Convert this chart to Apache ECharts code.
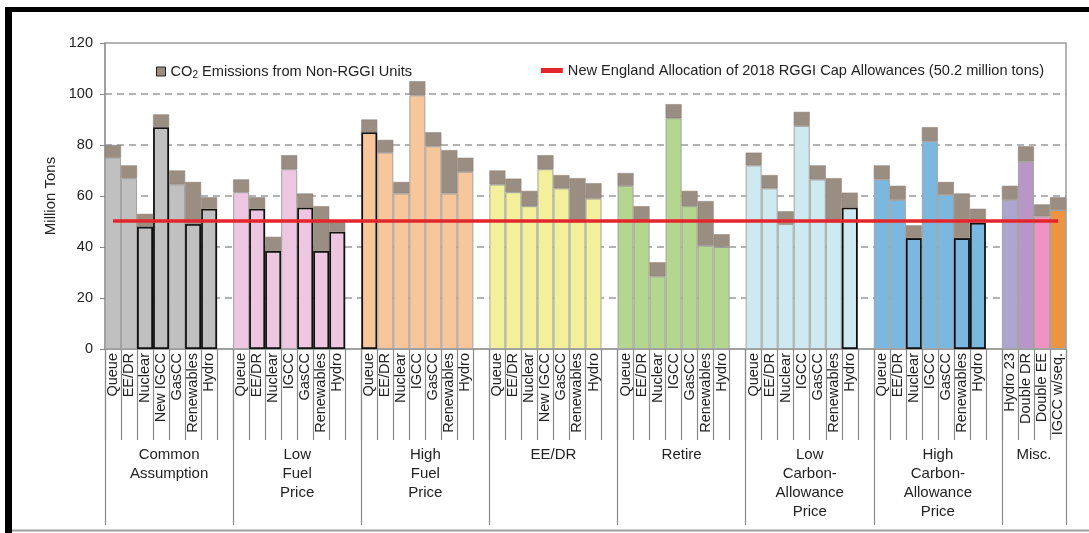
<!DOCTYPE html>
<html><head><meta charset="utf-8">
<script src="https://cdn.jsdelivr.net/npm/echarts@6/dist/echarts.min.js"></script>
<style>html,body{margin:0;padding:0;background:#fff}#c{width:1089px;height:533px}</style>
</head><body><div id="c"></div>
<script>
// ---------- data ----------
const groupNames = ['Common\nAssumption', 'Low\nFuel\nPrice', 'High\nFuel\nPrice', 'EE/DR', 'Retire',
  'Low\nCarbon-\nAllowance\nPrice', 'High\nCarbon-\nAllowance\nPrice', 'Misc.'];

const casesCommon     = ['Queue', 'EE/DR', 'Nuclear', 'New IGCC', 'GasCC', 'Renewables', 'Hydro'];
const casesLowFuel    = ['Queue', 'EE/DR', 'Nuclear', 'IGCC', 'GasCC', 'Renewables', 'Hydro'];
const casesHighFuel   = ['Queue', 'EE/DR', 'Nuclear', 'IGCC', 'GasCC', 'Renewables', 'Hydro'];
const casesEEDR       = ['Queue', 'EE/DR', 'Nuclear', 'New IGCC', 'GasCC', 'Renewables', 'Hydro'];
const casesRetire     = ['Queue', 'EE/DR', 'Nuclear', 'IGCC', 'GasCC', 'Renewables', 'Hydro'];
const casesLowCarbon  = ['Queue', 'EE/DR', 'Nuclear', 'IGCC', 'GasCC', 'Renewables', 'Hydro'];
const casesHighCarbon = ['Queue', 'EE/DR', 'Nuclear', 'IGCC', 'GasCC', 'Renewables', 'Hydro'];
const casesMisc       = ['Hydro 23', 'Double DR', 'Double EE', 'IGCC w/seq.'];

// RGGI-unit emissions (coloured part), million tons
const rggiCommon     = [75, 67, 48, 87, 64.5, 49, 55];
const rggiLowFuel    = [61.5, 55, 38.5, 70.5, 55.5, 38.5, 46];
const rggiHighFuel   = [85, 77, 61, 99.5, 79.5, 61, 69.5];
const rggiEEDR       = [64.5, 61.5, 56, 70.5, 63, 50, 59];
const rggiRetire     = [64, 50.5, 28.5, 90.5, 56, 40.5, 40];
const rggiLowCarbon  = [72, 63, 49, 87.5, 66.5, 50, 55.5];
const rggiHighCarbon = [66.5, 58.5, 43.5, 81.5, 60.5, 43.5, 49.5];
const rggiMisc       = [58.5, 73.5, 52, 54.5];

// CO2 emissions from non-RGGI units (grey part), million tons
const nonRggiCommon     = [5, 5, 5, 5, 5.5, 16.5, 4.5];
const nonRggiLowFuel    = [5, 4.5, 5.5, 5.5, 5.5, 17.5, 4.5];
const nonRggiHighFuel   = [5, 5, 4.5, 5.5, 5.5, 17, 5.5];
const nonRggiEEDR       = [5.5, 5.3, 6, 5.5, 5.2, 17, 6];
const nonRggiRetire     = [5, 5.5, 5.5, 5.5, 6, 17.5, 5];
const nonRggiLowCarbon  = [5, 5.2, 5, 5.5, 5.5, 17, 5.8];
const nonRggiHighCarbon = [5.5, 5.5, 5, 5.5, 5, 17.5, 5.5];
const nonRggiMisc       = [5.5, 6, 4.7, 5];

const capAllowance = 50.2;
const yTicks = [0, 20, 40, 60, 80, 100, 120];

// ---------- styles ----------
const groupColors = ['#c0c0c0', '#ecc7df', '#f7c69b', '#f2f09b', '#b4d68f', '#cfe9f1', '#7bb8e0',
  ['#aca6d1', '#b896c8', '#f093c0', '#ee9440']];
const outlinedCases = [[2, 3, 5, 6], [1, 2, 4, 5, 6], [0], [], [], [6], [2, 5, 6], []];
const greyTop = '#9a8e82';
const FONT = 'Liberation Sans, Arial, sans-serif';

// ---------- build ----------
const groupCases = [casesCommon, casesLowFuel, casesHighFuel, casesEEDR, casesRetire, casesLowCarbon, casesHighCarbon, casesMisc];
const groupRggi = [rggiCommon, rggiLowFuel, rggiHighFuel, rggiEEDR, rggiRetire, rggiLowCarbon, rggiHighCarbon, rggiMisc];
const groupNon = [nonRggiCommon, nonRggiLowFuel, nonRggiHighFuel, nonRggiEEDR, nonRggiRetire, nonRggiLowCarbon, nonRggiHighCarbon, nonRggiMisc];

const categories = [], baseData = [], topData = [];
const groupBounds = [], groupCenters = [];
groupCases.forEach((cases, g) => {
  const start = categories.length;
  cases.forEach((c, i) => {
    categories.push(categories.length + '|' + c);
    const col = Array.isArray(groupColors[g]) ? groupColors[g][i] : groupColors[g];
    const out = outlinedCases[g].includes(i);
    baseData.push({ value: groupRggi[g][i], itemStyle: { color: col, borderColor: out ? '#111' : '#a3a3a3', borderWidth: out ? 1.8 : 1 } });
    topData.push(groupNon[g][i]);
  });
  if (g < groupCases.length - 1) {
    categories.push(categories.length + '|');
    baseData.push('-'); topData.push('-');
  }
  groupBounds.push(start);
  groupCenters.push((start + categories.length) / 2);
});
groupBounds.push(categories.length);

const nonName = 'CO2 Emissions from Non-RGGI Units';
const capName = 'New England Allocation of 2018 RGGI Cap Allowances (50.2 million tons)';

const chart = echarts.init(document.getElementById('c'), null, { renderer: 'canvas' });
chart.setOption({
  animation: false,
  backgroundColor: '#fff',
  textStyle: { fontFamily: FONT },
  grid: { left: 105, right: 23, top: 43, bottom: 184, show: true, borderColor: '#9a9a9a', borderWidth: 1.5, backgroundColor: 'transparent' },
  legend: [
    {
      data: [nonName], left: 151, top: 58, icon: 'rect', itemWidth: 9, itemHeight: 9, itemGap: 4,
      itemStyle: { borderColor: '#222', borderWidth: 1 },
      formatter: () => 'CO{s|2} Emissions from Non-RGGI Units',
      textStyle: { fontSize: 14.6, color: '#222', fontFamily: FONT, lineHeight: 17,
        rich: { s: { fontSize: 10, lineHeight: 10, verticalAlign: 'bottom', padding: [7, 0, 0, 0], fontFamily: FONT, color: '#222' } } }
    },
    {
      data: [capName], right: 40, top: 58, icon: 'rect', itemWidth: 22, itemHeight: 5,
      textStyle: { fontSize: 14.6, color: '#222', fontFamily: FONT }
    }
  ],
  xAxis: [
    {
      type: 'category', data: categories, position: 'bottom',
      axisLine: { show: true, lineStyle: { color: '#9a9a9a', width: 1.5 } },
      axisTick: { show: true, interval: 0, length: 91, lineStyle: { color: '#8a8a8a', width: 1.2 } },
      axisLabel: { interval: 0, rotate: 90, margin: 4, fontSize: 14.5, color: '#222', fontFamily: FONT,
        formatter: v => v.split('|')[1] },
      splitLine: { show: false }
    },
    {
      type: 'value', min: 0, max: categories.length, position: 'bottom',
      axisLine: { show: false },
      splitLine: { show: false },
      axisTick: { show: true, customValues: groupBounds, length: 176, lineStyle: { color: '#8a8a8a', width: 1.2 } },
      axisLabel: { show: true, customValues: groupCenters, margin: 96, fontSize: 15, lineHeight: 19, color: '#222', fontFamily: FONT,
        formatter: v => { const i = groupCenters.indexOf(v); return i >= 0 ? groupNames[i] : ''; } }
    }
  ],
  yAxis: {
    type: 'value', min: yTicks[0], max: yTicks[yTicks.length - 1], interval: yTicks[1] - yTicks[0],
    name: 'Million Tons', nameLocation: 'middle', nameGap: 46, nameRotate: 90,
    nameTextStyle: { fontSize: 15, color: '#222', fontFamily: FONT },
    axisLine: { show: true, lineStyle: { color: '#9a9a9a', width: 1.5 } },
    axisTick: { show: true, length: 5, lineStyle: { color: '#8a8a8a' } },
    axisLabel: { fontSize: 14.5, color: '#222', margin: 12, fontFamily: FONT },
    splitLine: { show: true, showMinLine: false, showMaxLine: false, lineStyle: { color: '#9a9a9a', width: 1.5, type: [7, 5] } }
  },
  series: [
    { name: 'RGGI', type: 'bar', stack: 'e', xAxisIndex: 0, barCategoryGap: '0%', data: baseData },
    { name: nonName, type: 'bar', stack: 'e', xAxisIndex: 0, barCategoryGap: '0%', data: topData,
      itemStyle: { color: greyTop, borderColor: '#8a7f74', borderWidth: 0.5 } },
    { name: capName, type: 'line', xAxisIndex: 0, data: categories.map(() => capAllowance), symbol: 'none', z: 5,
      itemStyle: { color: '#e3262b' }, lineStyle: { color: '#e3262b', width: 3.5 } }
  ],
  graphic: [
    { type: 'rect', shape: { x: 5, y: 7, width: 1084, height: 5 }, style: { fill: '#000' }, silent: true },
    { type: 'rect', shape: { x: 5, y: 7, width: 7, height: 526 }, style: { fill: '#000' }, silent: true },
    { type: 'line', shape: { x1: 12, y1: 530.5, x2: 1089, y2: 530.5 }, style: { stroke: '#a0a0a0', lineWidth: 2 }, silent: true }
  ]
});
</script></body></html>
